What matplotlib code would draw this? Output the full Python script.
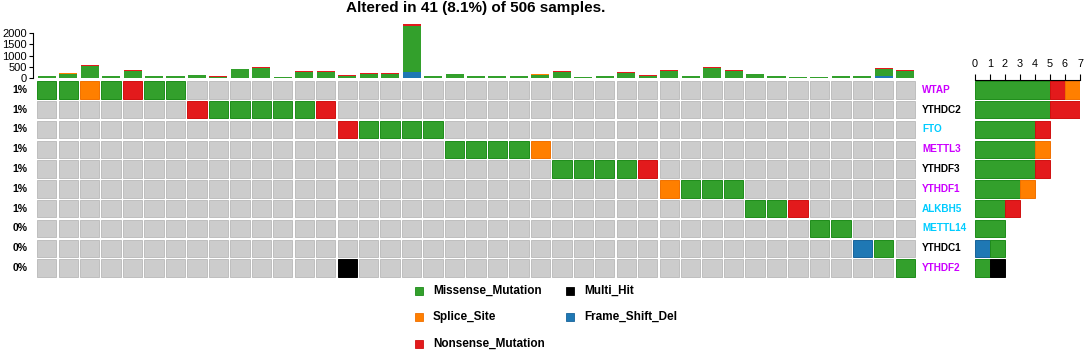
import numpy as np
import matplotlib
matplotlib.use("Agg")
import matplotlib.pyplot as plt

plt.rcParams['font.family'] = ['Liberation Sans', 'DejaVu Sans']

# genes in plot order, with the frequency label on the left
genes = ['WTAP', 'YTHDC2', 'FTO', 'METTL3', 'YTHDF3',
         'YTHDF1', 'ALKBH5', 'METTL14', 'YTHDC1', 'YTHDF2']
pct_labels = ['1%', '1%', '1%', '1%', '1%', '1%', '1%', '0%', '0%', '0%']
gene_colors = ['#CC00FF', 'black', '#00CCFF', '#CC00FF', 'black',
               '#CC00FF', '#00CCFF', '#00CCFF', 'black', '#CC00FF']

# one char per sample (41 samples): M missense, N nonsense, S splice,
# F frame shift del, H multi hit, . none
wtap    = "MMSMNMM" + "." * 34
ythdc2  = "." * 7 + "NMMMMMN" + "." * 27
fto     = "." * 14 + "NMMMM" + "." * 22
mettl3  = "." * 19 + "MMMMS" + "." * 17
ythdf3  = "." * 24 + "MMMMN" + "." * 12
ythdf1  = "." * 29 + "SMMM" + "." * 8
alkbh5  = "." * 33 + "MMN" + "." * 5
mettl14 = "." * 36 + "MM" + "." * 3
ythdc1  = "." * 38 + "FM" + "."
ythdf2  = "." * 14 + "H" + "." * 25 + "M"
onco_rows = [wtap, ythdc2, fto, mettl3, ythdf3, ythdf1, alkbh5, mettl14, ythdc1, ythdf2]

# per-sample mutation burden (top bars), split by class
tmb_missense = [95, 200, 520, 80, 305, 88, 88, 130, 62, 380, 440, 45, 250, 250, 105,
                185, 190, 2030, 72, 185, 92, 95, 72, 155, 265, 52, 72, 235, 105, 295,
                72, 455, 305, 175, 95, 45, 55, 72, 72, 330, 305]
tmb_nonsense = [10, 25, 45, 8, 40, 10, 10, 12, 5, 40, 45, 4, 35, 40, 15,
                25, 12, 80, 8, 15, 8, 15, 8, 12, 35, 5, 8, 35, 15, 45,
                8, 45, 35, 15, 15, 4, 5, 8, 8, 30, 35]
tmb_splice = [5, 5, 10, 2, 5, 2, 2, 8, 3, 0, 0, 1, 5, 0, 0,
              0, 8, 0, 0, 0, 0, 0, 0, 3, 0, 3, 0, 0, 0, 0,
              0, 0, 0, 0, 0, 1, 0, 0, 0, 0, 0]
tmb_frameshift = [0, 0, 0, 0, 0, 0, 0, 0, 0, 0, 0, 0, 0, 0, 0,
                  0, 0, 270, 0, 0, 0, 0, 0, 0, 0, 0, 0, 0, 0, 0,
                  0, 0, 0, 0, 0, 0, 0, 0, 0, 90, 0]

codes = ['F', 'M', 'N', 'S', 'H']
code_names = {'M': 'Missense_Mutation', 'S': 'Splice_Site', 'N': 'Nonsense_Mutation',
              'H': 'Multi_Hit', 'F': 'Frame_Shift_Del'}
col = {'M': '#33A02C', 'S': '#FF7F00', 'N': '#E31A1C', 'F': '#1F78B4',
       'H': '#000000', '.': '#CCCCCC'}
edge = {'M': '#1E8C1A', 'S': '#F07000', 'N': '#D01010', 'F': '#18639A',
        'H': '#000000', '.': '#BEBEBE'}

W, H = 1084, 352
fig = plt.figure(figsize=(W / 100, H / 100), dpi=100)


def box(x0, y0, x1, y1):
    return [x0 / W, 1 - y1 / H, (x1 - x0) / W, (y1 - y0) / H]


n_samp = len(wtap)
xs = np.arange(n_samp)

# main oncoprint grid
ax = fig.add_axes(box(36, 80, 916, 278))
for i, row in enumerate(onco_rows):
    ax.bar(xs, 0.88, bottom=i - 0.44, width=0.9,
           color=[col[c] for c in row], edgecolor=[edge[c] for c in row], linewidth=0.7)
ax.set_xlim(-0.5, n_samp - 0.5)
ax.set_ylim(len(genes) - 0.5, -0.5)
ax.axis('off')
ytr = ax.get_yaxis_transform()
for i, g in enumerate(genes):
    ax.text(-0.010, i, pct_labels[i], transform=ytr, ha='right', va='center',
            fontsize=7.5, fontweight='bold')
    ax.text(1.007, i, g, transform=ytr, ha='left', va='center',
            fontsize=7.2, fontweight='bold', color=gene_colors[i])

# top bar plot of burden
axt = fig.add_axes(box(36, 20, 916, 78))
bottom = np.zeros(n_samp)
for vals, c in [(tmb_frameshift, 'F'), (tmb_missense, 'M'), (tmb_splice, 'S'), (tmb_nonsense, 'N')]:
    axt.bar(xs, vals, bottom=bottom, width=0.84, color=col[c], linewidth=0)
    bottom += np.array(vals)
axt.set_xlim(-0.5, n_samp - 0.5)
axt.set_ylim(0, 2578)
for s in ['top', 'right', 'bottom']:
    axt.spines[s].set_visible(False)
axt.spines['left'].set_position(('outward', 2))
axt.spines['left'].set_bounds(0, 2000)
axt.spines['left'].set_linewidth(0.8)
axt.set_yticks([0, 500, 1000, 1500, 2000])
axt.tick_params(axis='y', labelsize=8, length=3, width=0.8, pad=1.5)
axt.set_xticks([])
axt.patch.set_alpha(0)

# right bar plot of per-gene counts
axr = fig.add_axes(box(975, 80, 1080, 278))
for i, row in enumerate(onco_rows):
    left = 0
    for c in codes:
        n = row.count(c)
        if n:
            axr.barh(i, n, left=left, height=0.88, color=col[c], edgecolor=edge[c], linewidth=0.7)
            left += n
axr.set_xlim(0, 7)
axr.set_ylim(len(genes) - 0.5, -0.5)
for s in ['bottom', 'right', 'left']:
    axr.spines[s].set_visible(False)
axr.spines['top'].set_linewidth(0.8)
axr.xaxis.tick_top()
axr.set_xticks(range(8))
axr.tick_params(axis='x', labelsize=7.8, length=4, width=0.8, pad=4)
axr.set_yticks([])

fig.text(476 / W, 1 - 8 / H, 'Altered in 41 (8.1%) of 506 samples.', ha='center', va='center',
         fontsize=11, fontweight='bold')

# legend
leg_items = [('M', 415, 291), ('S', 415, 317), ('N', 415, 344), ('H', 566, 291), ('F', 566, 317)]
for c, lx, ly in leg_items:
    fig.patches.append(plt.Rectangle((lx / W, 1 - (ly + 4) / H), 8 / W, 8 / H,
                                     transform=fig.transFigure, facecolor=col[c],
                                     edgecolor=edge[c], linewidth=0.6))
    fig.text((lx + 18) / W, 1 - ly / H, code_names[c], ha='left', va='center',
             fontsize=8.5, fontweight='bold')

fig.savefig('out.png', dpi=100)
